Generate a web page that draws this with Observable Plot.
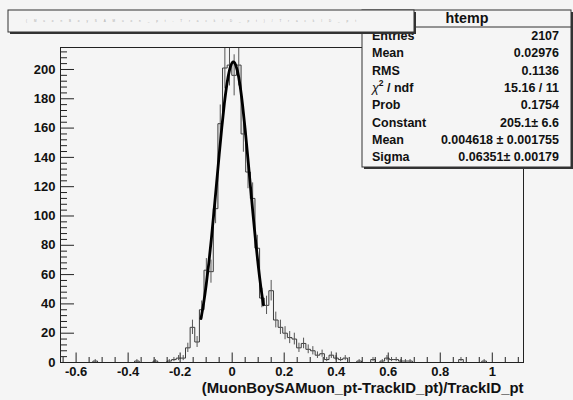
<!DOCTYPE html>
<html><head><meta charset="utf-8">
<script src="https://cdn.jsdelivr.net/npm/d3@7"></script>
<script src="https://cdn.jsdelivr.net/npm/@observablehq/plot@0.6"></script>
<style>
html,body{margin:0;padding:0;background:#f5f5f5;}
#chart{width:573px;height:400px;overflow:hidden;}
</style></head><body><div id="chart"></div>
<script>
// ---- data ----
const binLow = -0.66, binHigh = 1.12, binCount = 100;
const counts = [
  0,0,0,0,0,0,0,1,0,0,            // 0-9
  0,0,0,0,0,0,1,0,0,0,            // 10-19
  1,0,0,1,2,3,3,10,24,14,         // 20-29
  36,63,62,105,163,201,203,196,203,156, // 30-39
  130,112,78,44,39,49,29,24,20,17,      // 40-49
  16,10,13,9,8,5,6,2,5,3,         // 50-59
  2,3,0,0,1,0,0,2,0,1,            // 60-69
  3,2,2,1,1,1,0,0,0,0,            // 70-79
  0,0,0,0,0,0,2,0,0,0,            // 80-89
  0,1,0,0,0,0,0,0,0,0             // 90-99
];
const fitX = [-0.12,-0.11,-0.10,-0.09,-0.08,-0.07,-0.06,-0.05,-0.04,-0.03,-0.02,-0.01,0,0.01,0.02,0.03,0.04,0.05,0.06,0.07,0.08,0.09,0.10,0.11,0.12];
const fitY = [29.9,40.2,52.8,67.6,84.4,102.9,122.2,141.7,160.2,176.8,190.3,199.7,204.6,204.4,199.2,189.4,175.6,158.9,140.2,120.7,101.4,83.1,66.4,51.8,39.4];

const xMajorTicks = [-0.6,-0.4,-0.2,0,0.2,0.4,0.6,0.8,1];
const xTickLabels = ["-0.6","-0.4","-0.2","0","0.2","0.4","0.6","0.8","1"];
const xMinorTicks = [-0.65,-0.55,-0.5,-0.45,-0.35,-0.3,-0.25,-0.15,-0.1,-0.05,0.05,0.1,0.15,0.25,0.3,0.35,0.45,0.5,0.55,0.65,0.7,0.75,0.85,0.9,0.95,1.05,1.1];
const yMajorTicks = [0,20,40,60,80,100,120,140,160,180,200];
const yTickLabels = ["0","20","40","60","80","100","120","140","160","180","200"];
const yMinorTicks = [4,8,12,16,24,28,32,36,44,48,52,56,64,68,72,76,84,88,92,96,104,108,112,116,124,128,132,136,144,148,152,156,164,168,172,176,184,188,192,196,204,208,212];
const yMax = 215;
const xTitle = "(MuonBoySAMuon_pt-TrackID_pt)/TrackID_pt";
const histName = "htemp";
const statsLabels = ["Entries","Mean","RMS","χ2 / ndf","Prob","Constant","Mean","Sigma"];
const statsValues = ["2107","0.02976","0.1136","15.16 / 11","0.1754","205.1± 6.6","0.004618 ± 0.001755","0.06351± 0.00179"];

// ---- derived tables ----
const bw = (binHigh - binLow) / binCount;
const stepData = counts.map((c, i) => ({x: binLow + i * bw, y: c}));
stepData.push({x: binHigh, y: counts[counts.length - 1]});
const errData = counts.map((c, i) => ({x: binLow + (i + 0.5) * bw, c}))
  .filter(d => d.c > 0)
  .map(d => ({x: d.x, lo: d.c - Math.sqrt(d.c), hi: d.c + Math.sqrt(d.c)}));
const fitData = fitX.map((x, i) => ({x, y: fitY[i]}));

const font = "'Liberation Sans', Arial, Helvetica, sans-serif";
const ink = "#222";

const plot = Plot.plot({
  width: 573, height: 400,
  marginLeft: 60, marginRight: 50, marginTop: 47, marginBottom: 38,
  style: {background: "#f5f5f5", fontFamily: font, overflow: "hidden"},
  x: {domain: [binLow, binHigh], label: null},
  y: {domain: [0, yMax], label: null},
  marks: [
    Plot.line(stepData, {x: "x", y: "y", curve: "step-after", stroke: "#3a3a3a", strokeWidth: 1, clip: true}),
    Plot.ruleX(errData, {x: "x", y1: "lo", y2: "hi", stroke: "#555", strokeWidth: 1, clip: true}),
    Plot.line(fitData, {x: "x", y: "y", curve: "natural", stroke: "#000", strokeWidth: 2.8, clip: true}),
    Plot.axisX(xMinorTicks, {anchor: "bottom", tickSize: -5, tickFormat: () => "", stroke: ink, label: null}),
    Plot.axisX(xMajorTicks, {anchor: "bottom", tickSize: -9.5, tickPadding: 9.5 + 4, tickFormat: (d, i) => xTickLabels[i],
      fontSize: 13, fontWeight: "bold", fill: "#111", stroke: ink, label: null}),
    Plot.axisY(yMinorTicks, {anchor: "left", tickSize: -7, tickFormat: () => "", stroke: ink, label: null}),
    Plot.axisY(yMajorTicks, {anchor: "left", tickSize: -14, tickPadding: 14 + 5, tickFormat: (d, i) => yTickLabels[i],
      fontSize: 13, fontWeight: "bold", fill: "#111", stroke: ink, label: null}),
    Plot.frame({stroke: ink, strokeWidth: 1}),
    Plot.text([xTitle], {frameAnchor: "bottom-right", dy: 30, textAnchor: "end", fontSize: 14.9, fontWeight: "bold", fill: "#111"})
  ]
});
document.getElementById("chart").appendChild(plot);

// ---- ROOT title box and statistics box overlays ----
const svg = d3.select(plot);
const g = svg.append("g").attr("font-family", font).attr("text-anchor", "start");

// stats box
const sx = 362, sy = 10, sw = 209, sh = 157;
g.append("rect").attr("x", sx + 2).attr("y", sy + 2).attr("width", sw).attr("height", sh).attr("fill", "#333");
g.append("rect").attr("x", sx).attr("y", sy).attr("width", sw).attr("height", sh).attr("fill", "#f5f5f5").attr("stroke", "#333").attr("stroke-width", 1);
g.append("line").attr("x1", sx).attr("x2", sx + sw).attr("y1", 27).attr("y2", 27).attr("stroke", "#333");
g.append("text").attr("x", 467).attr("y", 18).attr("text-anchor", "middle").attr("dominant-baseline", "central")
  .attr("font-size", 14.3).attr("font-weight", "bold").attr("fill", "#111").text(histName);
statsLabels.forEach((lab, i) => {
  const yy = 36 + i * 17.35;
  const t = g.append("text").attr("x", 372).attr("y", yy).attr("text-anchor", "start").attr("dominant-baseline", "central")
    .attr("font-size", 12.5).attr("font-weight", "bold").attr("fill", "#111");
  if (lab.startsWith("χ2")) {
    t.append("tspan").attr("font-style", "italic").attr("font-weight", "normal").text("χ");
    t.append("tspan").attr("dy", -5).attr("font-size", 8.5).text("2");
    t.append("tspan").attr("dy", 5).text(" / ndf");
  } else t.text(lab);
  g.append("text").attr("x", 559).attr("y", yy).attr("text-anchor", "end").attr("dominant-baseline", "central")
    .attr("font-size", 12.5).attr("font-weight", "bold").attr("fill", "#111").text(statsValues[i]);
});

// title box (drawn over the stats header)
const tx = 8, ty = 10, tw = 406, th = 22;
g.append("rect").attr("x", tx + 2).attr("y", ty + 2).attr("width", tw).attr("height", th).attr("fill", "#333");
g.append("rect").attr("x", tx).attr("y", ty).attr("width", tw).attr("height", th).attr("fill", "#f5f5f5").attr("stroke", "#333");
g.append("text").attr("x", 26).attr("y", 21).attr("text-anchor", "start").attr("dominant-baseline", "central").attr("font-size", 3)
  .attr("fill", "#aaa").attr("textLength", 330).attr("lengthAdjust", "spacing").text(xTitle);
</script></body></html>
